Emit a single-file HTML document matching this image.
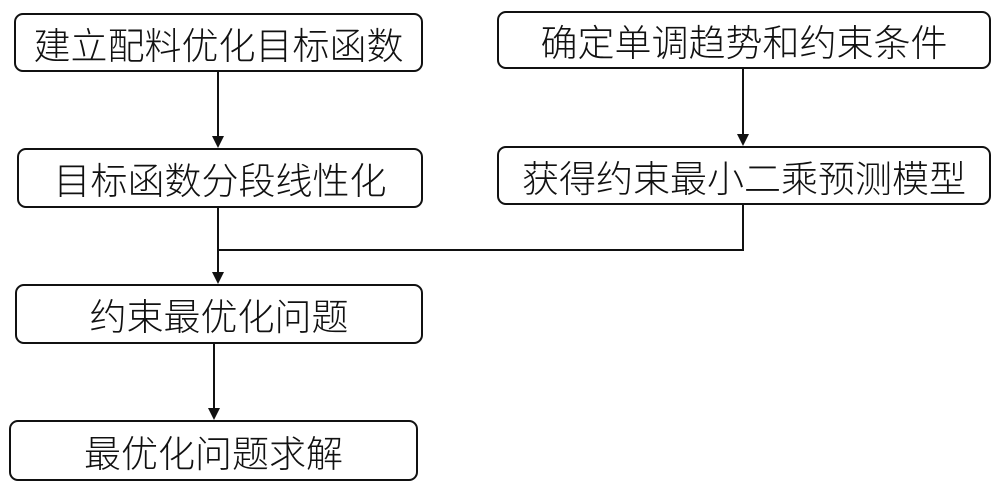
<!DOCTYPE html>
<html><head><meta charset="utf-8"><style>
body{margin:0;width:1000px;height:490px;background:#fff;position:relative;overflow:hidden;font-family:"Liberation Sans","Noto Sans CJK SC",sans-serif}
.b{position:absolute;border:2px solid #111;border-radius:9px;box-sizing:border-box;display:flex;align-items:center;justify-content:center;font-size:37px;color:#111;white-space:nowrap;font-weight:300}
</style></head><body>
<div class="b" style="left:14px;top:13px;width:409px;height:59px">建立配料优化目标函数</div>
<div class="b" style="left:17px;top:148px;width:406px;height:60px">目标函数分段线性化</div>
<div class="b" style="left:15px;top:284px;width:408px;height:60px">约束最优化问题</div>
<div class="b" style="left:9px;top:420px;width:409px;height:61px">最优化问题求解</div>
<div class="b" style="left:497px;top:11px;width:494px;height:58px">确定单调趋势和约束条件</div>
<div class="b" style="left:497px;top:146px;width:494px;height:59px">获得约束最小二乘预测模型</div>
<svg width="1000" height="490" style="position:absolute;left:0;top:0">
<g stroke="#111" stroke-width="2" fill="none">
<line x1="218" y1="72" x2="218" y2="138"/>
<line x1="743" y1="69" x2="743" y2="136"/>
<polyline points="218,208 218,250 743,250 743,205"/>
<line x1="218" y1="250" x2="218" y2="274"/>
<line x1="214" y1="344" x2="214" y2="410"/>
</g>
<g fill="#111">
<polygon points="212,136 224,136 218,148"/>
<polygon points="737,134 749,134 743,146"/>
<polygon points="212,272 224,272 218,284"/>
<polygon points="208,408 220,408 214,420"/>
</g>
</svg>
</body></html>
